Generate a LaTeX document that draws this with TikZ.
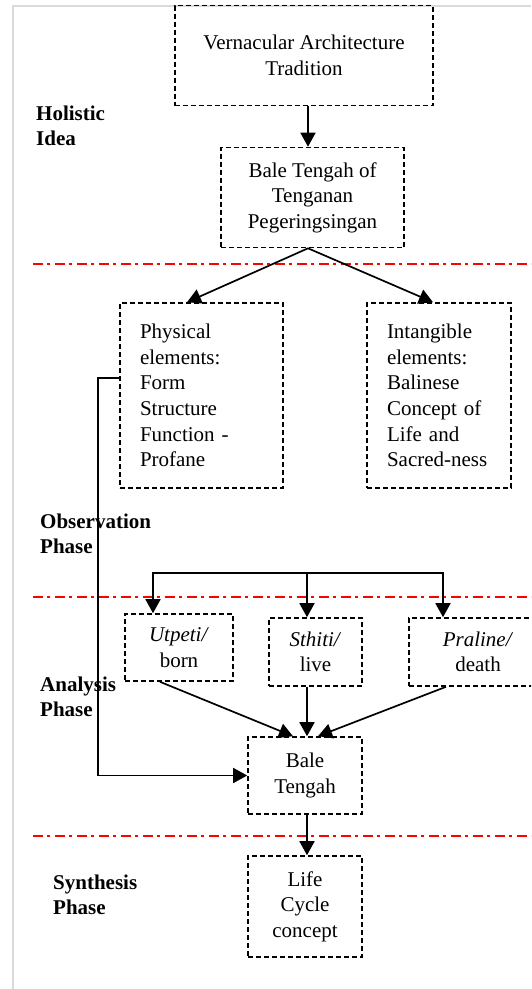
\documentclass[tikz,border=0pt]{standalone}
\usepackage{fontspec}
\setmainfont{Liberation Serif}
\usetikzlibrary{arrows.meta}
\definecolor{framegray}{HTML}{DADADA}
\begin{document}
\begin{tikzpicture}[x=1pt,y=-1pt,
  box/.style={draw, dash pattern=on 5pt off 3pt, line width=1.6pt, inner sep=0pt,
    align=center, font=\fontsize{21}{25.6}\selectfont},
  listbox/.style={box, align=left},
  phase/.style={anchor=north west, inner sep=0pt, align=left,
    font=\fontsize{21}{24.5}\selectfont\bfseries},
  arr/.style={-{Triangle[length=14pt,width=15pt]}, line width=1.7pt},
  sep/.style={red, line width=1.7pt, dash pattern=on 10pt off 4pt on 3pt off 5pt}]
\useasboundingbox (0,0) rectangle (531,989);
\clip (0,0) rectangle (531,989);
% frame
\draw[framegray, line width=2pt] (13,989) -- (13,5.5) -- (531,5.5);
% phase separators
\coordinate (s1a) at (33,264); \coordinate (s1b) at (531,264);
\coordinate (s2a) at (33,597); \coordinate (s2b) at (531,597);
\coordinate (s3a) at (33,836); \coordinate (s3b) at (531,836);
\draw[sep] (s1a) -- (s1b);
\draw[sep] (s2a) -- (s2b);
\draw[sep] (s3a) -- (s3b);
% phase labels
\node[phase] (holistic) at (36,106) {Holistic\\Idea};
\node[phase] (observation) at (40,514) {Observation\\Phase};
\node[phase] (analysis) at (40,677) {Analysis\\Phase};
\node[phase] (synthesis) at (53,875) {Synthesis\\Phase};
% boxes
\node[box, minimum width=258pt, minimum height=100pt] (vat) at (304,55.5)
  {Vernacular Architecture\\Tradition};
\node[box, minimum width=183pt, minimum height=100pt] (btp) at (312.5,197.5)
  {Bale Tengah of\\Tenganan\\Pegeringsingan};
\node[listbox, minimum width=163pt, minimum height=185pt, text width=123pt] (phys) at (201.5,395.5)
  {Physical\\elements:\\Form\\Structure\\Function -\\Profane};
\node[listbox, minimum width=144pt, minimum height=185pt, text width=104pt] (intang) at (439,395.5)
  {Intangible\\elements:\\Balinese\\Concept of\\Life and\\Sacred-ness};
\node[box, minimum width=108pt, minimum height=67pt] (utp) at (179,647.5)
  {\textit{Utpeti/}\\born};
\node[box, minimum width=93pt, minimum height=68pt] (sth) at (315.5,652)
  {\textit{Sthiti/}\\live};
\node[box, minimum width=138pt, minimum height=68pt] (pra) at (478,652)
  {\textit{Praline/}\\death};
\node[box, minimum width=114pt, minimum height=77pt] (bale) at (305,775.5)
  {Bale\\Tengah};
\node[box, minimum width=114pt, minimum height=101pt] (life) at (305,906.5)
  {Life\\Cycle\\concept};
% connectors
\draw[arr] ([xshift=4pt]vat.south) -- ([xshift=-4.5pt]btp.north);
\draw[arr] ([xshift=-4.5pt]btp.south) -- ([xshift=-14.5pt]phys.north);
\draw[arr] ([xshift=-4.5pt]btp.south) -- ([xshift=-6pt]intang.north);
\draw[arr] ([yshift=17.5pt]phys.west) -- ++(-21,0) |- (bale.west);
\coordinate (split) at (307,573);
\draw[arr] (split) -| ([xshift=-26pt]utp.north);
\draw[arr] (split) -- ([xshift=-8.5pt]sth.north);
\draw[arr] (split) -| ([xshift=-35pt]pra.north);
\draw[arr] ([xshift=-19pt]utp.south) -- ([xshift=-12pt]bale.north);
\draw[arr] ([xshift=-8.5pt]sth.south) -- ([xshift=2pt]bale.north);
\draw[arr] ([xshift=-32pt]pra.south) -- ([xshift=13pt]bale.north);
\draw[arr] ([xshift=2pt]bale.south) -- ([xshift=2pt]life.north);
\end{tikzpicture}
\end{document}
